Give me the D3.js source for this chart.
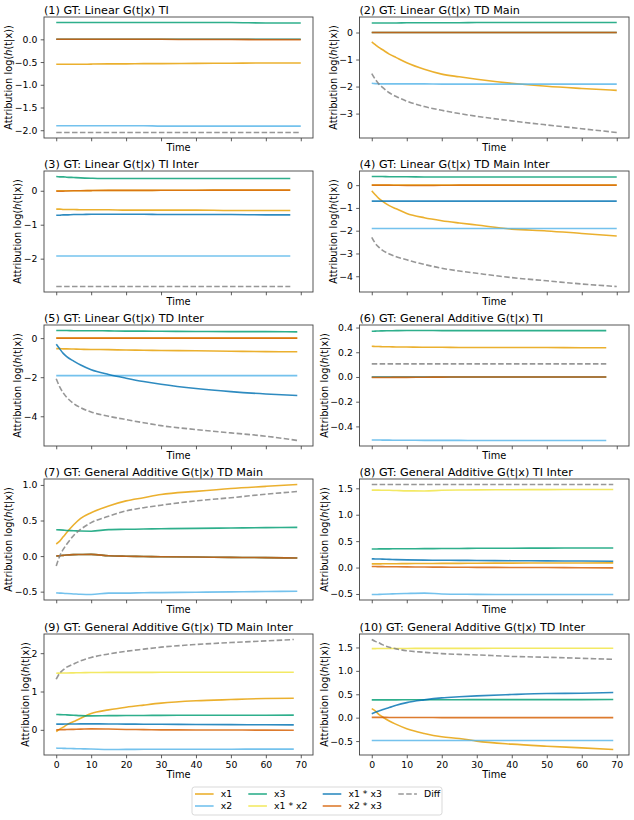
<!DOCTYPE html>
<html><head><meta charset="utf-8">
<script src="https://cdn.jsdelivr.net/npm/d3@7"></script>
<style>body{margin:0;background:#fff} text{font-family:"DejaVu Sans",sans-serif;fill:#000}</style>
</head><body><svg id="c" width="634" height="820"></svg>
<script>
// ---------- DATA ----------
const seriesNames = ["x1", "x2", "x3", "x1 * x2", "x1 * x3", "x2 * x3", "Diff"];
const seriesColors = ["#E69F00", "#56B4E9", "#009E73", "#F0E442", "#0072B2", "#D55E00", "#808080"];
const panelTitles = [
  "(1) GT: Linear G(t|x) TI",
  "(2) GT: Linear G(t|x) TD Main",
  "(3) GT: Linear G(t|x) TI Inter",
  "(4) GT: Linear G(t|x) TD Main Inter",
  "(5) GT: Linear G(t|x) TD Inter",
  "(6) GT: General Additive G(t|x) TI",
  "(7) GT: General Additive G(t|x) TD Main",
  "(8) GT: General Additive G(t|x) TI Inter",
  "(9) GT: General Additive G(t|x) TD Main Inter",
  "(10) GT: General Additive G(t|x) TD Inter"
];
// sample times (shared), last time differs per panel
const timeGrid = [0, 1, 2, 3, 5, 7, 10, 15, 20, 25, 30, 40, 50, 60];
const endTimes = [70, 70, 67, 70, 69, 67, 69, 69, 68, 69];
const xTicks = [0, 10, 20, 30, 40, 50, 60, 70];
const yTicks = [
  [0, -0.5, -1, -1.5, -2],
  [0, -1, -2, -3],
  [0, -1, -2],
  [0, -1, -2, -3, -4],
  [0, -2, -4],
  [0.4, 0.2, 0, -0.2, -0.4],
  [1, 0.5, 0, -0.5],
  [1.5, 1, 0.5, 0, -0.5],
  [2, 1, 0],
  [1.5, 1, 0.5, 0, -0.5]
];
const yTickFormats = [".1f", "d", "d", "d", "d", ".1f", ".1f", ".1f", "d", ".1f"];

// each panel: [x1, x2, x3, x1*x2, x1*x3, x2*x3, Diff]
const panel1 = [
  [-0.55,-0.55,-0.55,-0.55,-0.55,-0.55,-0.545,-0.54,-0.54,-0.535,-0.535,-0.53,-0.525,-0.52,-0.52],
  [-1.90,-1.90,-1.90,-1.90,-1.90,-1.90,-1.90,-1.90,-1.90,-1.90,-1.91,-1.91,-1.91,-1.91,-1.91],
  [0.37,0.37,0.37,0.37,0.37,0.37,0.37,0.37,0.37,0.37,0.37,0.37,0.37,0.36,0.36],
  [0,0,0,0,0,0,0,0,0,0,0,0,0,0,0],
  [0,0,0,0,0,0,0,0,0,0,0,0,0,0,0],
  [0,0,0,0,0,0,0,0,0,0,0,-0.005,-0.005,-0.01,-0.01],
  [-2.05,-2.05,-2.05,-2.05,-2.05,-2.05,-2.05,-2.05,-2.05,-2.05,-2.05,-2.05,-2.05,-2.05,-2.05]
];
const panel2 = [
  [-0.35,-0.45,-0.55,-0.63,-0.80,-0.93,-1.12,-1.36,-1.54,-1.64,-1.73,-1.88,-1.99,-2.07,-2.14],
  [-1.88,-1.89,-1.90,-1.90,-1.90,-1.90,-1.90,-1.90,-1.91,-1.91,-1.91,-1.91,-1.91,-1.91,-1.91],
  [0.35,0.35,0.35,0.35,0.35,0.35,0.36,0.36,0.36,0.36,0.37,0.37,0.37,0.37,0.37],
  [0,0,0,0,0,0,0,0,0,0,0,0,0,0,0],
  [0,0,0,0,0,0,0,0,0,0,0,0,0,0,0],
  [0,0,0,0,0,0,0,0,0,0,0,0,0,0,0],
  [-1.52,-1.73,-1.90,-2.02,-2.23,-2.37,-2.54,-2.74,-2.88,-3.00,-3.10,-3.27,-3.42,-3.56,-3.70]
];
const panel3 = [
  [-0.54,-0.54,-0.55,-0.55,-0.55,-0.56,-0.56,-0.56,-0.57,-0.57,-0.57,-0.57,-0.58,-0.58,-0.58],
  [-1.92,-1.92,-1.92,-1.92,-1.92,-1.92,-1.92,-1.92,-1.92,-1.92,-1.92,-1.92,-1.92,-1.92,-1.92],
  [0.42,0.41,0.41,0.40,0.39,0.38,0.37,0.36,0.36,0.36,0.36,0.36,0.36,0.36,0.36],
  [0,0,0,0,0,0,0.005,0.01,0.01,0.01,0.015,0.015,0.02,0.02,0.02],
  [-0.72,-0.72,-0.71,-0.71,-0.70,-0.70,-0.69,-0.69,-0.69,-0.69,-0.70,-0.70,-0.70,-0.71,-0.71],
  [-0.01,-0.01,-0.01,-0.005,0,0,0.005,0.01,0.01,0.01,0.015,0.015,0.02,0.02,0.02],
  [-2.82,-2.82,-2.82,-2.82,-2.82,-2.82,-2.82,-2.82,-2.82,-2.82,-2.82,-2.82,-2.82,-2.82,-2.82]
];
const panel4 = [
  [-0.25,-0.42,-0.58,-0.70,-0.90,-1.04,-1.24,-1.43,-1.56,-1.66,-1.75,-1.93,-2.01,-2.12,-2.23],
  [-1.90,-1.90,-1.90,-1.90,-1.90,-1.90,-1.90,-1.90,-1.90,-1.90,-1.90,-1.90,-1.90,-1.90,-1.90],
  [0.38,0.38,0.38,0.38,0.37,0.37,0.37,0.36,0.36,0.36,0.36,0.36,0.36,0.36,0.36],
  [0,0,0,0,0,0,0,0,0,0,0,0,0,0,0],
  [-0.70,-0.70,-0.70,-0.70,-0.70,-0.70,-0.70,-0.70,-0.70,-0.70,-0.70,-0.70,-0.70,-0.70,-0.70],
  [0,0,0,0,0,-0.005,-0.01,-0.01,-0.005,0,0,0,0,0,0],
  [-2.29,-2.55,-2.72,-2.85,-3.02,-3.14,-3.28,-3.48,-3.65,-3.77,-3.87,-4.06,-4.20,-4.34,-4.45]
];
const panel5 = [
  [-0.54,-0.54,-0.55,-0.55,-0.56,-0.57,-0.58,-0.59,-0.61,-0.62,-0.63,-0.65,-0.67,-0.69,-0.70],
  [-1.92,-1.92,-1.92,-1.92,-1.92,-1.92,-1.92,-1.92,-1.92,-1.92,-1.92,-1.92,-1.92,-1.92,-1.92],
  [0.39,0.39,0.39,0.39,0.38,0.38,0.38,0.37,0.36,0.36,0.35,0.34,0.33,0.33,0.32],
  [0,0,0,0,0,0,0,0,0,0,0,0,0,0,0],
  [-0.31,-0.55,-0.78,-0.95,-1.18,-1.38,-1.62,-1.86,-2.05,-2.22,-2.36,-2.58,-2.74,-2.86,-2.94],
  [0,0,0,0,0,0,0,0,0,0,0,0,0,0,0],
  [-2.08,-2.50,-2.80,-3.03,-3.35,-3.56,-3.78,-4.00,-4.17,-4.33,-4.48,-4.68,-4.85,-5.02,-5.24]
];
const panel6 = [
  [0.248,0.247,0.246,0.245,0.244,0.243,0.242,0.240,0.240,0.239,0.239,0.238,0.238,0.237,0.237],
  [-0.510,-0.510,-0.510,-0.511,-0.511,-0.512,-0.512,-0.513,-0.513,-0.513,-0.514,-0.514,-0.514,-0.514,-0.514],
  [0.370,0.371,0.372,0.373,0.374,0.375,0.376,0.376,0.375,0.375,0.375,0.375,0.375,0.375,0.375],
  [0,0,0,0,0,0,0,0,0,0,0,0,0,0,0],
  [0,0,0,0,0,0,0,0,0,0,0,0,0,0,0],
  [-0.004,-0.004,-0.004,-0.004,-0.004,-0.003,-0.003,-0.002,-0.001,0,0,0,0,0,0],
  [0.106,0.106,0.106,0.106,0.106,0.106,0.106,0.106,0.106,0.106,0.106,0.106,0.106,0.106,0.106]
];
const panel7 = [
  [0.17,0.21,0.27,0.33,0.44,0.53,0.61,0.705,0.776,0.82,0.865,0.91,0.95,0.98,1.006],
  [-0.517,-0.52,-0.523,-0.527,-0.532,-0.537,-0.54,-0.52,-0.52,-0.515,-0.513,-0.508,-0.503,-0.498,-0.494],
  [0.37,0.368,0.365,0.36,0.357,0.352,0.35,0.372,0.376,0.38,0.384,0.39,0.395,0.40,0.404],
  [0,0.005,0.01,0.015,0.02,0.022,0.024,0.005,-0.002,-0.006,-0.01,-0.014,-0.018,-0.022,-0.028],
  [0,0.005,0.01,0.015,0.02,0.022,0.024,0.005,-0.002,-0.006,-0.01,-0.014,-0.018,-0.022,-0.028],
  [0,0.005,0.01,0.015,0.02,0.022,0.024,0.005,-0.002,-0.006,-0.01,-0.014,-0.018,-0.022,-0.028],
  [-0.14,0.0,0.094,0.165,0.29,0.376,0.47,0.56,0.635,0.68,0.715,0.776,0.82,0.87,0.907]
];
const panel8 = [
  [0.069,0.07,0.07,0.071,0.072,0.073,0.075,0.077,0.079,0.08,0.082,0.084,0.086,0.087,0.088],
  [-0.51,-0.51,-0.508,-0.505,-0.50,-0.495,-0.49,-0.484,-0.50,-0.505,-0.508,-0.51,-0.51,-0.51,-0.51],
  [0.352,0.352,0.353,0.353,0.354,0.355,0.356,0.358,0.36,0.362,0.364,0.366,0.368,0.37,0.371],
  [1.465,1.465,1.465,1.464,1.462,1.458,1.452,1.45,1.462,1.468,1.47,1.473,1.475,1.477,1.478],
  [0.164,0.163,0.162,0.16,0.155,0.15,0.145,0.14,0.138,0.136,0.134,0.13,0.127,0.123,0.12],
  [0.019,0.019,0.018,0.017,0.016,0.014,0.012,0.01,0.008,0.006,0.004,0.002,0,-0.004,-0.006],
  [1.572,1.572,1.572,1.572,1.572,1.572,1.572,1.572,1.572,1.572,1.572,1.572,1.572,1.572,1.572]
];
const panel9 = [
  [-0.043,0.017,0.07,0.13,0.217,0.304,0.426,0.52,0.59,0.645,0.696,0.757,0.79,0.817,0.826],
  [-0.478,-0.48,-0.483,-0.486,-0.49,-0.495,-0.50,-0.513,-0.51,-0.508,-0.507,-0.506,-0.505,-0.504,-0.504],
  [0.40,0.398,0.395,0.39,0.38,0.37,0.365,0.37,0.374,0.376,0.378,0.38,0.381,0.382,0.383],
  [1.478,1.48,1.482,1.484,1.487,1.49,1.496,1.498,1.50,1.50,1.501,1.502,1.503,1.504,1.504],
  [0.148,0.149,0.15,0.151,0.153,0.155,0.156,0.154,0.15,0.147,0.145,0.14,0.136,0.133,0.13],
  [0,0.002,0.005,0.008,0.013,0.018,0.026,0.02,0.01,0.005,0,-0.003,-0.005,-0.007,-0.009],
  [1.32,1.48,1.565,1.635,1.72,1.80,1.887,1.98,2.05,2.105,2.157,2.226,2.278,2.32,2.357]
];
const panel10 = [
  [0.193,0.143,0.072,0.02,-0.072,-0.143,-0.236,-0.337,-0.408,-0.444,-0.501,-0.566,-0.609,-0.645,-0.68],
  [-0.487,-0.487,-0.487,-0.487,-0.487,-0.487,-0.487,-0.487,-0.487,-0.487,-0.487,-0.487,-0.487,-0.487,-0.487],
  [0.38,0.38,0.38,0.38,0.381,0.381,0.382,0.383,0.384,0.384,0.385,0.385,0.386,0.386,0.387],
  [1.476,1.476,1.477,1.477,1.478,1.478,1.479,1.48,1.48,1.481,1.481,1.482,1.482,1.483,1.483],
  [0.086,0.115,0.143,0.17,0.215,0.265,0.322,0.38,0.423,0.447,0.466,0.494,0.516,0.523,0.537],
  [0.007,0.007,0.006,0.006,0.005,0.005,0.004,0.003,0.002,0.002,0.001,0.001,0,0,0],
  [1.67,1.63,1.60,1.56,1.504,1.47,1.43,1.397,1.368,1.352,1.34,1.31,1.29,1.268,1.246]
];
const panels = [panel1, panel2, panel3, panel4, panel5, panel6, panel7, panel8, panel9, panel10];

// ---------- LAYOUT ----------
const svg = d3.select("#c");
const colLeft = [44, 359.5], colWidth = [269, 269.5];
const rowTop = [17, 171, 325, 479, 634], plotH = 121;
const tickLen = 3.3, tickPad = 3.3;
const fsTick = 9.3, fsLabel = 9.8, fsTitle = 11.2;

panels.forEach((data, i) => {
  const r = Math.floor(i / 2), c = i % 2;
  const L = colLeft[c], W = colWidth[c], T = rowTop[r], H = plotH, B = T + H;
  const times = [...timeGrid, endTimes[i]];
  const all = data.flat();
  const mn = d3.min(all), mx = d3.max(all), pad = (mx - mn) * 0.05;
  const x = d3.scaleLinear().domain([-3.5, 73.5]).range([L, L + W]);
  const y = d3.scaleLinear().domain([mn - pad, mx + pad]).range([B, T]);
  const g = svg.append("g");

  const line = d3.line().x(d => x(d[0])).y(d => y(d[1])).curve(d3.curveMonotoneX);
  data.forEach((vals, k) => {
    g.append("path")
      .datum(vals.map((v, j) => [times[j], v]))
      .attr("d", line)
      .attr("fill", "none")
      .attr("stroke", seriesColors[k])
      .attr("stroke-width", 1.6)
      .attr("stroke-opacity", 0.82)
      .attr("stroke-dasharray", k === 6 ? "5.5,2.4" : null);
  });

  // x axis
  const isBottom = r === 4;
  const xa = d3.axisBottom(x).tickValues(xTicks).tickSize(tickLen).tickPadding(tickPad)
    .tickFormat(isBottom ? d3.format("d") : () => "");
  const gx = g.append("g").attr("transform", `translate(0,${B})`).call(xa);
  // y axis
  const ya = d3.axisLeft(y).tickValues(yTicks[i]).tickSize(tickLen).tickPadding(tickPad)
    .tickFormat(d3.format(yTickFormats[i]));
  const gy = g.append("g").attr("transform", `translate(${L},0)`).call(ya);
  [gx, gy].forEach(a => {
    a.select(".domain").remove();
    a.attr("font-family", null).attr("font-size", null);
    a.selectAll(".tick line").attr("stroke", "#333").attr("stroke-width", 0.8);
    a.selectAll(".tick text").attr("font-size", fsTick).attr("fill", "#000");
  });
  let maxW = 0;
  gy.selectAll(".tick text").each(function () { maxW = Math.max(maxW, this.getComputedTextLength()); });

  // frame
  g.append("rect").attr("x", L).attr("y", T).attr("width", W).attr("height", H)
    .attr("fill", "none").attr("stroke", "#444").attr("stroke-width", 0.9);

  // title
  g.append("text").attr("x", L).attr("y", T - 3.5).attr("font-size", fsTitle).text(panelTitles[i]);
  // x label
  g.append("text").attr("x", L + W / 2).attr("y", isBottom ? B + 22.5 : B + 13.3)
    .attr("text-anchor", "middle").attr("font-size", fsLabel).text("Time");
  // y label
  const cx = L - tickLen - tickPad - maxW - 6, cy = T + H / 2;
  const yl = g.append("text").attr("transform", `translate(${cx},${cy}) rotate(-90)`)
    .attr("text-anchor", "middle").attr("dy", "0.35em").attr("font-size", fsLabel);
  yl.append("tspan").text("Attribution log(");
  yl.append("tspan").attr("font-style", "italic").text("h");
  yl.append("tspan").text("(t|x))");
});

// ---------- LEGEND ----------
const legendColX = [195, 248.3, 322.7, 398.3], legendRowY = [794, 806];
const lg = svg.append("g");
lg.append("rect").attr("x", 192).attr("y", 787).attr("width", 250).attr("height", 28)
  .attr("rx", 2.5).attr("fill", "#fff").attr("stroke", "#d5d5d5").attr("stroke-width", 0.9);
seriesNames.forEach((name, k) => {
  const lx = legendColX[Math.floor(k / 2)], ly = legendRowY[k % 2];
  lg.append("line").attr("x1", lx).attr("x2", lx + 18.6).attr("y1", ly).attr("y2", ly)
    .attr("stroke", seriesColors[k]).attr("stroke-width", 1.6).attr("stroke-opacity", 0.82)
    .attr("stroke-dasharray", k === 6 ? "5.5,2.4" : null);
  lg.append("text").attr("x", lx + 25.8).attr("y", ly).attr("dy", "0.35em")
    .attr("font-size", fsTick).text(name);
});
</script></body></html>
